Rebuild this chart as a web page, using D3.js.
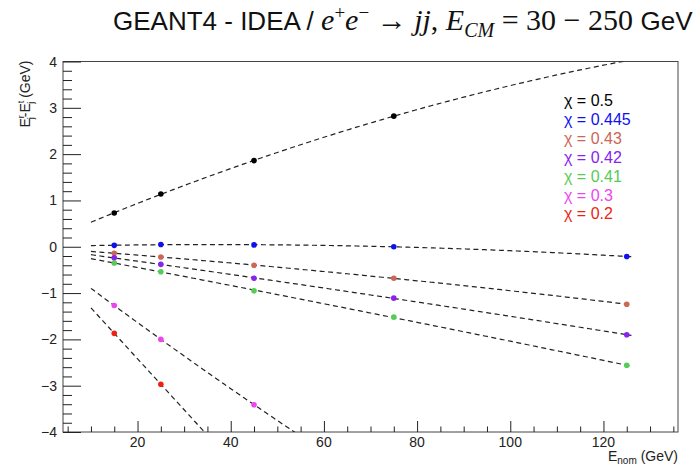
<!DOCTYPE html>
<html>
<head>
<meta charset="utf-8">
<script src="https://cdn.jsdelivr.net/npm/d3@7"></script>
<style>
  body { margin: 0; background: #fff; }
  svg { display: block; }
  text { font-family: "Liberation Sans", Arial, sans-serif; }
</style>
</head>
<body>
<div class="chartDiv"></div>
<script>
(function(){
  // data
  var energies  = [15, 25, 45, 75, 125];   // E_nom (GeV)
  var chiLabels = ["0.5", "0.445", "0.43", "0.42", "0.41", "0.3", "0.2"];
  var colors    = ["#000000", "#1010ee", "#cc6655", "#8822ee", "#55cc55", "#ee44ee", "#ee2211"];
  // E_j^r - E_j^t (GeV), null = off the chart
  var chi050  = [0.73, 1.14, 1.86, 2.82, null];
  var chi0445 = [0.03, 0.05, 0.04, 0.00, -0.21];
  var chi043  = [-0.14, -0.22, -0.40, -0.68, -1.24];
  var chi042  = [-0.24, -0.38, -0.68, -1.11, -1.90];
  var chi041  = [-0.35, -0.54, -0.95, -1.52, -2.56];
  var chi030  = [-1.27, -2.00, -3.41, null, null];
  var chi020  = [-1.87, -2.97, null, null, null];
  var series  = [chi050, chi0445, chi043, chi042, chi041, chi030, chi020];
  var fitRange = [10, 126];
  var xTicks = [20, 40, 60, 80, 100, 120];
  var yTicks = [-4, -3, -2, -1, 0, 1, 2, 3, 4];

  var width = 700, height = 467;
  var margin = {top: 61.5, right: 22, bottom: 35, left: 63};

  var svg = d3.select(".chartDiv").append("svg")
      .attr("width", width).attr("height", height);

  var x = d3.scaleLinear().domain([4, 136]).range([margin.left, width - margin.right]);
  var y = d3.scaleLinear().domain([-4, 4]).range([height - margin.bottom, margin.top]);

  svg.append("clipPath").attr("id", "plotClip").append("rect")
      .attr("x", x.range()[0]).attr("y", y.range()[1])
      .attr("width", x.range()[1] - x.range()[0])
      .attr("height", y.range()[0] - y.range()[1]);

  // frame
  svg.append("rect")
      .attr("x", x.range()[0]).attr("y", y.range()[1])
      .attr("width", x.range()[1] - x.range()[0])
      .attr("height", y.range()[0] - y.range()[1])
      .attr("fill", "none").attr("stroke", "#444").attr("stroke-width", 1);

  // x axis: ticks pointing inwards
  var xAxis = d3.axisTop(x).tickValues(d3.range(5, 136, 5)).tickSize(5).tickFormat("");
  svg.append("g").attr("transform", "translate(0," + y.range()[0] + ")").call(xAxis)
     .call(function(g){
       g.select(".domain").remove();
       g.selectAll(".tick line")
        .attr("y2", function(d){ return xTicks.indexOf(d) >= 0 ? -11 : -5.5; })
        .attr("stroke", "#222");
     });
  svg.append("g").selectAll("text").data(xTicks).enter().append("text")
      .attr("x", function(d){ return x(d); })
      .attr("y", y.range()[0] + 15)
      .attr("text-anchor", "middle")
      .attr("font-size", 14).attr("fill", "#222")
      .text(function(d){ return d; });

  // y axis
  var yMinor = d3.range(-40, 41, 2).map(function(v){ return v / 10; });
  var yAxis = d3.axisRight(y).tickValues(yMinor).tickSize(9).tickFormat("");
  svg.append("g").attr("transform", "translate(" + x.range()[0] + ",0)").call(yAxis)
     .call(function(g){
       g.select(".domain").remove();
       g.selectAll(".tick line")
        .attr("x2", function(d){ return Math.abs(d - Math.round(d)) < 1e-6 ? 18 : 9; })
        .attr("stroke", "#222");
     });
  svg.append("g").selectAll("text").data(yTicks).enter().append("text")
      .attr("x", x.range()[0] - 6)
      .attr("y", function(d){ return y(d); })
      .attr("dy", "0.36em")
      .attr("text-anchor", "end")
      .attr("font-size", 14).attr("fill", "#222")
      .text(function(d){ return d < 0 ? "\u2212" + (-d) : d; });

  // axis titles
  var xt = svg.append("text")
      .attr("x", x.range()[1]).attr("y", height - 6)
      .attr("text-anchor", "end").attr("font-size", 14).attr("fill", "#222");
  xt.append("tspan").text("E");
  xt.append("tspan").attr("font-size", 10).attr("dy", 3).text("nom");
  xt.append("tspan").attr("dy", -3).text(" (GeV)");

  var yt = svg.append("text")
      .attr("transform", "translate(30," + (margin.top - 1) + ") rotate(-90)")
      .attr("text-anchor", "end").attr("font-size", 14).attr("fill", "#222");
  yt.append("tspan").text("E");
  yt.append("tspan").attr("font-size", 9).attr("dy", -6).text("r");
  yt.append("tspan").attr("font-size", 9).attr("dx", -4).attr("dy", 10).text("j");
  yt.append("tspan").attr("dy", -4).text("-E");
  yt.append("tspan").attr("font-size", 9).attr("dy", -6).text("t");
  yt.append("tspan").attr("font-size", 9).attr("dx", -3).attr("dy", 10).text("j");
  yt.append("tspan").attr("dy", -4).text(" (GeV)");

  // least squares polynomial fit (deg 2, or 1 for two points)
  function polyFit(xs, ys){
    var n = xs.length, deg = Math.min(2, n - 1), m = deg + 1;
    var A = [], b = [];
    for(var i = 0; i < m; i++){
      A.push([]); b.push(0);
      for(var j = 0; j < m; j++){ A[i].push(0); }
    }
    for(var k = 0; k < n; k++){
      for(var i = 0; i < m; i++){
        b[i] += ys[k] * Math.pow(xs[k], i);
        for(var j = 0; j < m; j++){ A[i][j] += Math.pow(xs[k], i + j); }
      }
    }
    // gauss elimination
    for(var i = 0; i < m; i++){
      for(var r = i + 1; r < m; r++){
        var f = A[r][i] / A[i][i];
        for(var c = i; c < m; c++){ A[r][c] -= f * A[i][c]; }
        b[r] -= f * b[i];
      }
    }
    var coef = new Array(m);
    for(var i = m - 1; i >= 0; i--){
      var s = b[i];
      for(var c = i + 1; c < m; c++){ s -= A[i][c] * coef[c]; }
      coef[i] = s / A[i][i];
    }
    return function(v){
      var out = 0;
      for(var i = 0; i < m; i++){ out += coef[i] * Math.pow(v, i); }
      return out;
    };
  }

  var line = d3.line().x(function(d){ return x(d[0]); }).y(function(d){ return y(d[1]); });
  var plot = svg.append("g").attr("clip-path", "url(#plotClip)");

  series.forEach(function(vals, si){
    var pts = [];
    vals.forEach(function(v, i){ if(v !== null){ pts.push([energies[i], v]); } });
    var f = polyFit(pts.map(function(p){ return p[0]; }), pts.map(function(p){ return p[1]; }));
    var curve = d3.range(fitRange[0], fitRange[1] + 0.01, 0.5).map(function(e){ return [e, f(e)]; });
    plot.append("path").datum(curve).attr("d", line)
        .attr("fill", "none").attr("stroke", "#222")
        .attr("stroke-width", 1.2).attr("stroke-dasharray", "5,3.5");
    plot.selectAll(".pt" + si).data(pts).enter().append("circle")
        .attr("cx", function(d){ return x(d[0]); })
        .attr("cy", function(d){ return y(d[1]); })
        .attr("r", 2.8).attr("fill", colors[si]);
  });

  // legend
  var legend = svg.append("g").selectAll("text").data(chiLabels).enter().append("text")
      .attr("x", 564)
      .attr("y", function(d, i){ return 106 + i * 18.9; })
      .attr("font-size", 16)
      .attr("fill", function(d, i){ return colors[i]; })
      .text(function(d){ return "\u03c7 = " + d; });

  // title
  var title = svg.append("text").attr("x", 113).attr("y", 30).attr("font-size", 26).attr("fill", "#111");
  var serif = "'Liberation Serif', 'Times New Roman', serif";
  title.append("tspan").text("GEANT4 - IDEA / ");
  title.append("tspan").attr("font-family", serif).attr("font-style", "italic").attr("font-size", 30).text("e");
  title.append("tspan").attr("font-family", serif).attr("font-size", 19).attr("dy", -11).text("+");
  title.append("tspan").attr("font-family", serif).attr("font-style", "italic").attr("font-size", 30).attr("dy", 11).text("e");
  title.append("tspan").attr("font-family", serif).attr("font-size", 19).attr("dy", -11).text("\u2212");
  title.append("tspan").attr("font-family", serif).attr("font-size", 30).attr("dy", 11).text(" \u2192 ");
  title.append("tspan").attr("font-family", serif).attr("font-style", "italic").attr("font-size", 30).text("jj");
  title.append("tspan").attr("font-family", serif).attr("font-size", 30).text(",  ");
  title.append("tspan").attr("font-family", serif).attr("font-style", "italic").attr("font-size", 30).text("E");
  title.append("tspan").attr("font-family", serif).attr("font-style", "italic").attr("font-size", 20).attr("dy", 7).text("CM");
  title.append("tspan").attr("font-family", serif).attr("font-size", 30).attr("dy", -7).text(" = 30 \u2212 250 ");
  title.append("tspan").text("GeV");
})();
</script>
</body>
</html>
